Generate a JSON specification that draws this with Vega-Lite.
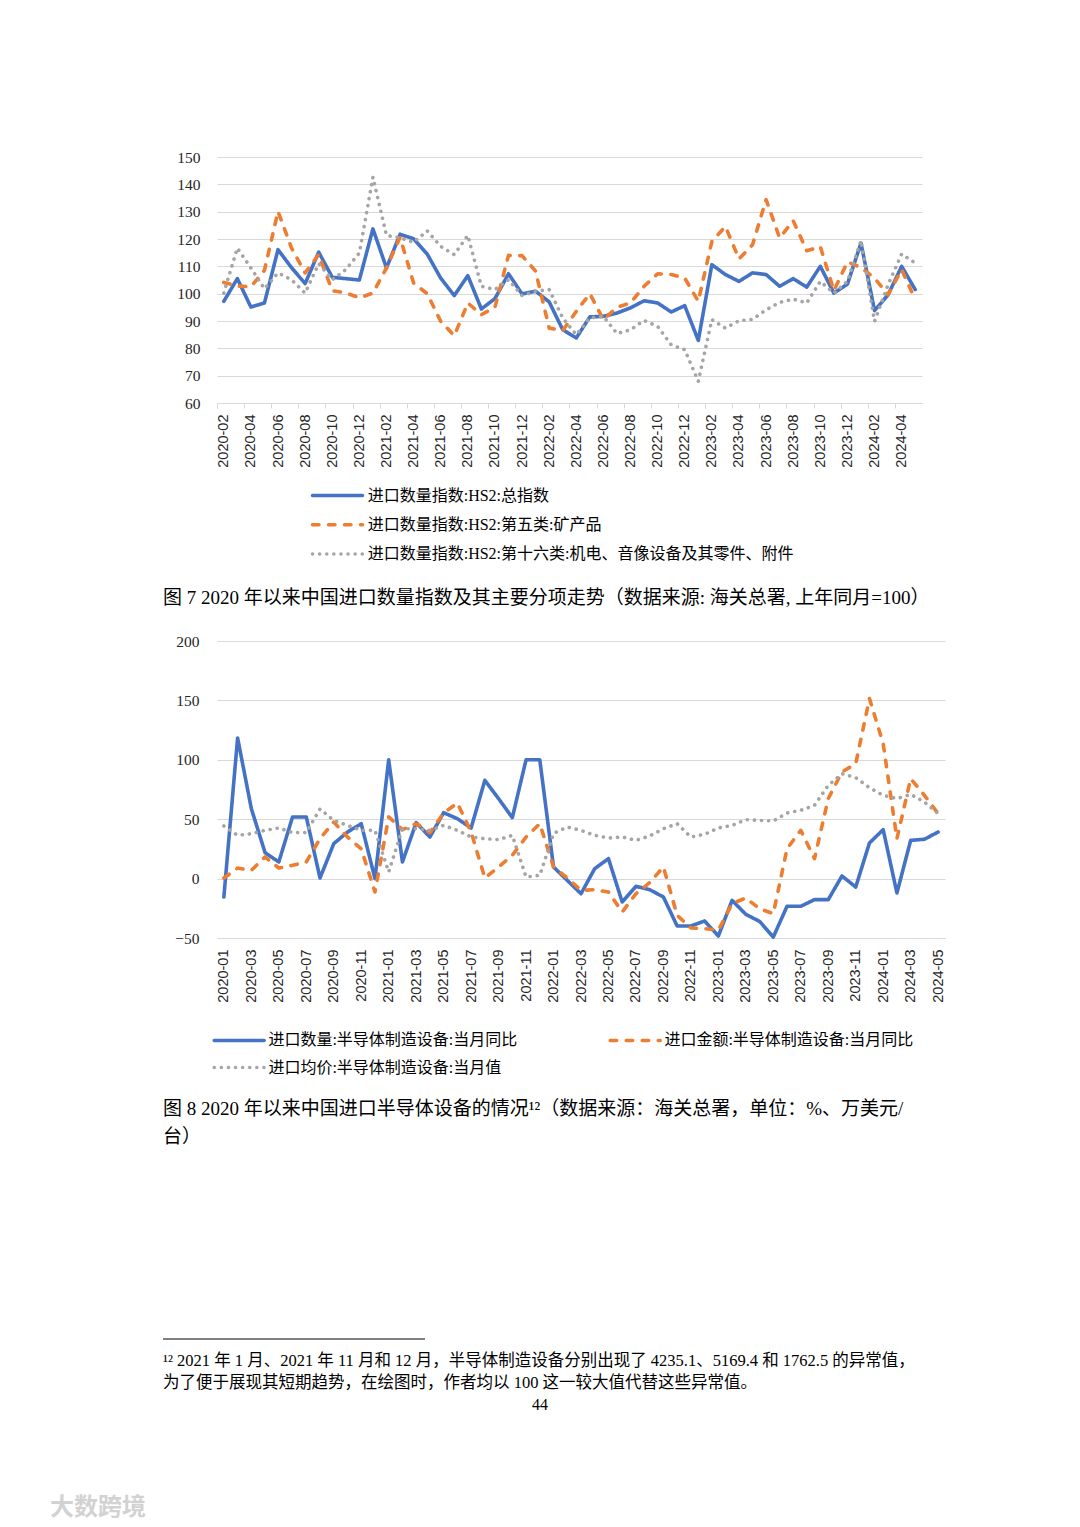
{
 "$schema": "https://vega.github.io/schema/vega-lite/v6.json",
 "background": "white",
 "padding": {"left": 50, "top": 150, "right": 5, "bottom": 12},
 "datasets": {
  "fig7": [
   {"m":"2020-02","t":97.2,"k":104.1,"e":100.2},
   {"m":"2020-03","t":105.5,"k":102.8,"e":116.7},
   {"m":"2020-04","t":95.1,"k":102.5,"e":109.4},
   {"m":"2020-05","t":96.6,"k":108.5,"e":101.8},
   {"m":"2020-06","t":116.1,"k":130.1,"e":107.6},
   {"m":"2020-07","t":109.5,"k":116.7,"e":105.1},
   {"m":"2020-08","t":103.7,"k":107.6,"e":100.2},
   {"m":"2020-09","t":115.2,"k":114.3,"e":111.0},
   {"m":"2020-10","t":106.0,"k":101.1,"e":105.1},
   {"m":"2020-11","t":105.5,"k":100.3,"e":108.8},
   {"m":"2020-12","t":105.0,"k":98.5,"e":114.9},
   {"m":"2021-01","t":123.7,"k":100.2,"e":142.6},
   {"m":"2021-02","t":109.4,"k":109.4,"e":121.3},
   {"m":"2021-03","t":121.7,"k":120.6,"e":120.4},
   {"m":"2021-04","t":120.1,"k":103.9,"e":118.8},
   {"m":"2021-05","t":114.5,"k":100.0,"e":123.0},
   {"m":"2021-06","t":105.7,"k":89.9,"e":117.3},
   {"m":"2021-07","t":99.3,"k":84.6,"e":114.3},
   {"m":"2021-08","t":106.6,"k":96.6,"e":121.3},
   {"m":"2021-09","t":94.4,"k":92.3,"e":102.7},
   {"m":"2021-10","t":98.2,"k":95.0,"e":101.5},
   {"m":"2021-11","t":107.3,"k":114.0,"e":105.1},
   {"m":"2021-12","t":99.9,"k":113.9,"e":99.3},
   {"m":"2022-01","t":100.9,"k":108.2,"e":100.9},
   {"m":"2022-02","t":97.0,"k":87.4,"e":101.5},
   {"m":"2022-03","t":86.8,"k":86.5,"e":91.1},
   {"m":"2022-04","t":83.8,"k":93.5,"e":85.0},
   {"m":"2022-05","t":91.5,"k":100.0,"e":91.1},
   {"m":"2022-06","t":91.7,"k":90.5,"e":91.7},
   {"m":"2022-07","t":92.9,"k":95.0,"e":85.4},
   {"m":"2022-08","t":94.8,"k":96.6,"e":86.8},
   {"m":"2022-09","t":97.4,"k":102.7,"e":90.2},
   {"m":"2022-10","t":96.6,"k":107.3,"e":88.0},
   {"m":"2022-11","t":93.3,"k":107.0,"e":81.3},
   {"m":"2022-12","t":95.6,"k":105.7,"e":79.5},
   {"m":"2023-01","t":82.9,"k":97.2,"e":67.9},
   {"m":"2023-02","t":110.6,"k":119.1,"e":90.5},
   {"m":"2023-03","t":107.0,"k":124.6,"e":87.4},
   {"m":"2023-04","t":104.5,"k":112.7,"e":90.1},
   {"m":"2023-05","t":107.6,"k":117.9,"e":90.6},
   {"m":"2023-06","t":107.0,"k":134.4,"e":94.1},
   {"m":"2023-07","t":102.7,"k":120.4,"e":96.8},
   {"m":"2023-08","t":105.5,"k":126.7,"e":98.0},
   {"m":"2023-09","t":102.4,"k":115.7,"e":96.6},
   {"m":"2023-10","t":110.0,"k":117.2,"e":104.5},
   {"m":"2023-11","t":100.2,"k":101.1,"e":100.2},
   {"m":"2023-12","t":103.5,"k":111.6,"e":104.5},
   {"m":"2024-01","t":118.5,"k":109.6,"e":119.4},
   {"m":"2024-02","t":93.8,"k":105.7,"e":89.9},
   {"m":"2024-03","t":99.6,"k":99.6,"e":103.3},
   {"m":"2024-04","t":110.0,"k":108.8,"e":114.5},
   {"m":"2024-05","t":101.5,"k":97.8,"e":111.2}
  ],
  "fig8": [
   {"m":"2020-01","q":-15.5,"a":0.5,"p":44.3},
   {"m":"2020-02","q":118.4,"a":8.9,"p":36.4},
   {"m":"2020-03","q":58.9,"a":7.0,"p":37.8},
   {"m":"2020-04","q":21.8,"a":18.2,"p":40.6},
   {"m":"2020-05","q":14.0,"a":8.9,"p":42.6},
   {"m":"2020-06","q":51.9,"a":11.2,"p":38.7},
   {"m":"2020-07","q":51.9,"a":14.0,"p":38.7},
   {"m":"2020-08","q":0.5,"a":33.6,"p":58.6},
   {"m":"2020-09","q":29.4,"a":47.6,"p":49.0},
   {"m":"2020-10","q":39.2,"a":35.0,"p":44.8},
   {"m":"2020-11","q":46.2,"a":25.0,"p":40.6},
   {"m":"2020-12","q":0.0,"a":-11.3,"p":40.6},
   {"m":"2021-01","q":100,"a":51.9,"p":5.6},
   {"m":"2021-02","q":14.0,"a":41.2,"p":42.0},
   {"m":"2021-03","q":47.1,"a":46.2,"p":42.0},
   {"m":"2021-04","q":35.0,"a":38.7,"p":40.6},
   {"m":"2021-05","q":55.5,"a":55.2,"p":44.8},
   {"m":"2021-06","q":50.4,"a":63.6,"p":40.6},
   {"m":"2021-07","q":42.6,"a":39.2,"p":35.0},
   {"m":"2021-08","q":82.7,"a":0.5,"p":33.6},
   {"m":"2021-09","q":67.3,"a":9.8,"p":32.8},
   {"m":"2021-10","q":51.3,"a":19.6,"p":36.4},
   {"m":"2021-11","q":100,"a":35.0,"p":1.4},
   {"m":"2021-12","q":100,"a":46.2,"p":2.8},
   {"m":"2022-01","q":9.8,"a":9.8,"p":38.0},
   {"m":"2022-02","q":-1.5,"a":0.5,"p":43.4},
   {"m":"2022-03","q":-12.7,"a":-9.9,"p":40.6},
   {"m":"2022-04","q":8.4,"a":-9.3,"p":36.4},
   {"m":"2022-05","q":16.8,"a":-11.3,"p":34.2},
   {"m":"2022-06","q":-19.7,"a":-28.1,"p":35.0},
   {"m":"2022-07","q":-6.5,"a":-12.7,"p":32.2},
   {"m":"2022-08","q":-9.3,"a":-3.4,"p":35.9},
   {"m":"2022-09","q":-15.5,"a":9.8,"p":42.0},
   {"m":"2022-10","q":-39.9,"a":-30.9,"p":46.2},
   {"m":"2022-11","q":-39.9,"a":-41.6,"p":35.0},
   {"m":"2022-12","q":-35.7,"a":-42.1,"p":37.3},
   {"m":"2023-01","q":-48.3,"a":-43.5,"p":42.6},
   {"m":"2023-02","q":-18.3,"a":-21.1,"p":44.8},
   {"m":"2023-03","q":-30.1,"a":-16.3,"p":49.6},
   {"m":"2023-04","q":-36.0,"a":-25.3,"p":49.0},
   {"m":"2023-05","q":-49.2,"a":-29.5,"p":48.5},
   {"m":"2023-06","q":-23.3,"a":25.2,"p":55.2},
   {"m":"2023-07","q":-23.3,"a":40.6,"p":57.5},
   {"m":"2023-08","q":-17.7,"a":16.8,"p":61.7},
   {"m":"2023-09","q":-17.7,"a":67.3,"p":78.5},
   {"m":"2023-10","q":2.2,"a":89.8,"p":88.3},
   {"m":"2023-11","q":-7.1,"a":96.7,"p":85.0},
   {"m":"2023-12","q":30.0,"a":151.5,"p":76.5},
   {"m":"2024-01","q":41.2,"a":113.6,"p":70.1},
   {"m":"2024-02","q":-12.1,"a":33.6,"p":67.3},
   {"m":"2024-03","q":32.2,"a":84.1,"p":70.9},
   {"m":"2024-04","q":33.1,"a":70.1,"p":64.5},
   {"m":"2024-05","q":39.2,"a":54.7,"p":54.7}
  ],
  "foot": [
   {"part":"sep"},
   {"part":"l1","text":"¹² 2021 年 1 月、2021 年 11 月和 12 月，半导体制造设备分别出现了 4235.1、5169.4 和 1762.5 的异常值，"},
   {"part":"l2","text":"为了便于展现其短期趋势，在绘图时，作者均以 100 这一较大值代替这些异常值。"},
   {"part":"page","text":"44"}
  ]
 },
 "title": {"text": "大数跨境", "orient": "bottom", "anchor": "start", "frame": "group", "dx": -167, "offset": 83, "fontSize": 24, "color": "#d2d2d2", "font": "Noto Sans CJK SC", "fontWeight": "bold"},
 "spacing": 191,
 "resolve": {"scale": {"color": "independent", "strokeDash": "independent"}},
 "vconcat": [
  {
   "spacing": 26,
   "resolve": {"scale": {"color": "independent", "strokeDash": "independent"}},
   "vconcat": [
    {
     "width": 705,
     "height": 246,
     "data": {"name": "fig7"},
     "transform": [{"fold": ["t", "k", "e"], "as": ["s", "v"]}],
     "mark": {"type": "line", "strokeWidth": 3.6, "strokeCap": "round", "strokeJoin": "round"},
     "encoding": {
      "x": {"field": "m", "type": "ordinal", "scale": {"type": "point", "padding": 0.5},
       "axis": {"title": null, "values": ["2020-02","2020-04","2020-06","2020-08","2020-10","2020-12","2021-02","2021-04","2021-06","2021-08","2021-10","2021-12","2022-02","2022-04","2022-06","2022-08","2022-10","2022-12","2023-02","2023-04","2023-06","2023-08","2023-10","2023-12","2024-02","2024-04"],
        "labelAngle": 270, "labelFont": "Liberation Sans", "labelFontSize": 14.5, "labelPadding": 6, "labelColor": "#262626", "labelOverlap": false,
        "tickOffset": -6.78, "labelOffset": 6.78,
        "domainColor": "#d9d9d9", "tickColor": "#d9d9d9", "tickSize": 5, "grid": false}},
      "y": {"field": "v", "type": "quantitative", "scale": {"domain": [60, 150], "nice": false, "zero": false},
       "axis": {"title": null, "values": [60,70,80,90,100,110,120,130,140,150], "domain": false, "ticks": false, "grid": true, "gridColor": "#d9d9d9", "labelFontSize": 15.5, "labelPadding": 17, "labelColor": "#262626"}},
      "color": {"field": "s", "type": "nominal", "scale": {"domain": ["t", "k", "e"], "range": ["#4472C4", "#ED7D31", "#A5A5A5"]},
       "legend": {"orient": "none", "legendX": 110, "legendY": 328, "title": null, "direction": "vertical", "symbolType": "M-3,0H3", "symbolSize": 278, "symbolStrokeWidth": 3.5, "labelFontSize": 16, "labelOffset": 19.7, "labelLimit": 800, "rowPadding": 10.3, "labelColor": "#000",
        "labelExpr": "datum.label == 't' ? '进口数量指数:HS2:总指数' : datum.label == 'k' ? '进口数量指数:HS2:第五类:矿产品' : '进口数量指数:HS2:第十六类:机电、音像设备及其零件、附件'",
        "encode": {"symbols": {"update": {"strokeCap": {"value": "round"}}}}}},
      "strokeDash": {"field": "s", "type": "nominal", "scale": {"domain": ["t", "k", "e"], "range": [[1, 0], [6.5, 9.5], [0.1, 7]]},
       "legend": {"orient": "none", "legendX": 110, "legendY": 328, "title": null, "direction": "vertical", "symbolType": "M-3,0H3", "symbolSize": 278, "symbolStrokeWidth": 3.5, "labelFontSize": 16, "labelOffset": 19.7, "labelLimit": 800, "rowPadding": 10.3, "labelColor": "#000",
        "labelExpr": "datum.label == 't' ? '进口数量指数:HS2:总指数' : datum.label == 'k' ? '进口数量指数:HS2:第五类:矿产品' : '进口数量指数:HS2:第十六类:机电、音像设备及其零件、附件'",
        "encode": {"symbols": {"update": {"strokeCap": {"value": "round"}}}}}}
     },
     "title": {"text": "图 7 2020 年以来中国进口数量指数及其主要分项走势（数据来源: 海关总署, 上年同月=100）", "orient": "bottom", "anchor": "start", "frame": "group", "dx": -54, "offset": 26, "fontSize": 19, "fontWeight": "normal", "color": "#000"}
    },
    {
     "width": 728,
     "height": 297,
     "data": {"name": "fig8"},
     "transform": [{"fold": ["q", "a", "p"], "as": ["s2", "v2"]}],
     "mark": {"type": "line", "strokeWidth": 3.6, "strokeCap": "round", "strokeJoin": "round"},
     "encoding": {
      "x": {"field": "m", "type": "ordinal", "scale": {"type": "point", "padding": 0.5},
       "axis": {"title": null, "values": ["2020-01","2020-03","2020-05","2020-07","2020-09","2020-11","2021-01","2021-03","2021-05","2021-07","2021-09","2021-11","2022-01","2022-03","2022-05","2022-07","2022-09","2022-11","2023-01","2023-03","2023-05","2023-07","2023-09","2023-11","2024-01","2024-03","2024-05"],
        "labelAngle": 270, "labelFont": "Liberation Sans", "labelFontSize": 14.5, "labelPadding": 11, "labelColor": "#262626", "labelOverlap": false,
        "domainColor": "#d9d9d9", "ticks": false, "grid": false}},
      "y": {"field": "v2", "type": "quantitative", "scale": {"domain": [-50, 200], "nice": false, "zero": false},
       "axis": {"title": null, "values": [-50, 0, 50, 100, 150, 200], "domain": false, "ticks": false, "grid": true, "gridColor": "#d9d9d9", "labelFontSize": 15.5, "labelPadding": 18, "labelColor": "#262626"}},
      "color": {"field": "s2", "type": "nominal", "scale": {"domain": ["q", "a", "p"], "range": ["#4472C4", "#ED7D31", "#A5A5A5"]},
       "legend": {"orient": "none", "legendX": 11.7, "legendY": 388.7, "title": null, "direction": "horizontal", "columns": 2, "columnPadding": 85, "symbolType": "M-3,0H3", "symbolSize": 278, "symbolStrokeWidth": 3.5, "labelFontSize": 16, "labelOffset": 18.7, "labelLimit": 800, "rowPadding": 8.3, "labelColor": "#000",
        "labelExpr": "datum.label == 'q' ? '进口数量:半导体制造设备:当月同比' : datum.label == 'a' ? '进口金额:半导体制造设备:当月同比' : '进口均价:半导体制造设备:当月值'",
        "encode": {"symbols": {"update": {"strokeCap": {"value": "round"}}}}}},
      "strokeDash": {"field": "s2", "type": "nominal", "scale": {"domain": ["q", "a", "p"], "range": [[1, 0], [6.5, 9.5], [0.1, 7]]},
       "legend": {"orient": "none", "legendX": 11.7, "legendY": 388.7, "title": null, "direction": "horizontal", "columns": 2, "columnPadding": 85, "symbolType": "M-3,0H3", "symbolSize": 278, "symbolStrokeWidth": 3.5, "labelFontSize": 16, "labelOffset": 18.7, "labelLimit": 800, "rowPadding": 8.3, "labelColor": "#000",
        "labelExpr": "datum.label == 'q' ? '进口数量:半导体制造设备:当月同比' : datum.label == 'a' ? '进口金额:半导体制造设备:当月同比' : '进口均价:半导体制造设备:当月值'",
        "encode": {"symbols": {"update": {"strokeCap": {"value": "round"}}}}}}
     },
     "title": {"text": ["图 8 2020 年以来中国进口半导体设备的情况¹²（数据来源：海关总署，单位：%、万美元/", "台）"], "orient": "bottom", "anchor": "start", "frame": "group", "dx": -54, "offset": 24, "fontSize": 19, "lineHeight": 28, "fontWeight": "normal", "color": "#000"}
    }
   ]
  },
  {
   "width": 700,
   "height": 66,
   "data": {"name": "foot"},
   "layer": [
    {
     "transform": [{"filter": "datum.part == 'sep'"}],
     "mark": {"type": "rule", "color": "#000", "strokeWidth": 1},
     "encoding": {
      "x": {"datum": 0, "type": "quantitative", "scale": {"domain": [0, 1], "range": [-54, 700], "nice": false, "zero": false}, "axis": null},
      "x2": {"datum": 0.3475},
      "y": {"field": "part", "type": "nominal", "scale": {"type": "point", "domain": ["sep", "l1", "l2", "page"], "padding": 0}, "axis": null}
     }
    },
    {
     "transform": [{"filter": "datum.part == 'l1' || datum.part == 'l2'"}],
     "mark": {"type": "text", "align": "left", "baseline": "middle", "fontSize": 16.5, "color": "#000"},
     "encoding": {
      "x": {"datum": 0, "type": "quantitative"},
      "y": {"field": "part", "type": "nominal"},
      "text": {"field": "text"}
     }
    },
    {
     "transform": [{"filter": "datum.part == 'page'"}],
     "mark": {"type": "text", "align": "center", "baseline": "middle", "fontSize": 16, "color": "#000"},
     "encoding": {
      "x": {"datum": 0.5, "type": "quantitative"},
      "y": {"field": "part", "type": "nominal"},
      "text": {"field": "text"}
     }
    }
   ]
  }
 ],
 "config": {
  "font": "Liberation Serif, Noto Sans CJK SC",
  "view": {"stroke": null},
  "axis": {"labelFont": "Liberation Serif, Noto Sans CJK SC"},
  "legend": {"labelFont": "Liberation Serif, Noto Sans CJK SC"},
  "title": {"font": "Liberation Serif, Noto Sans CJK SC"},
  "text": {"font": "Liberation Serif, Noto Sans CJK SC"}
 }
}
